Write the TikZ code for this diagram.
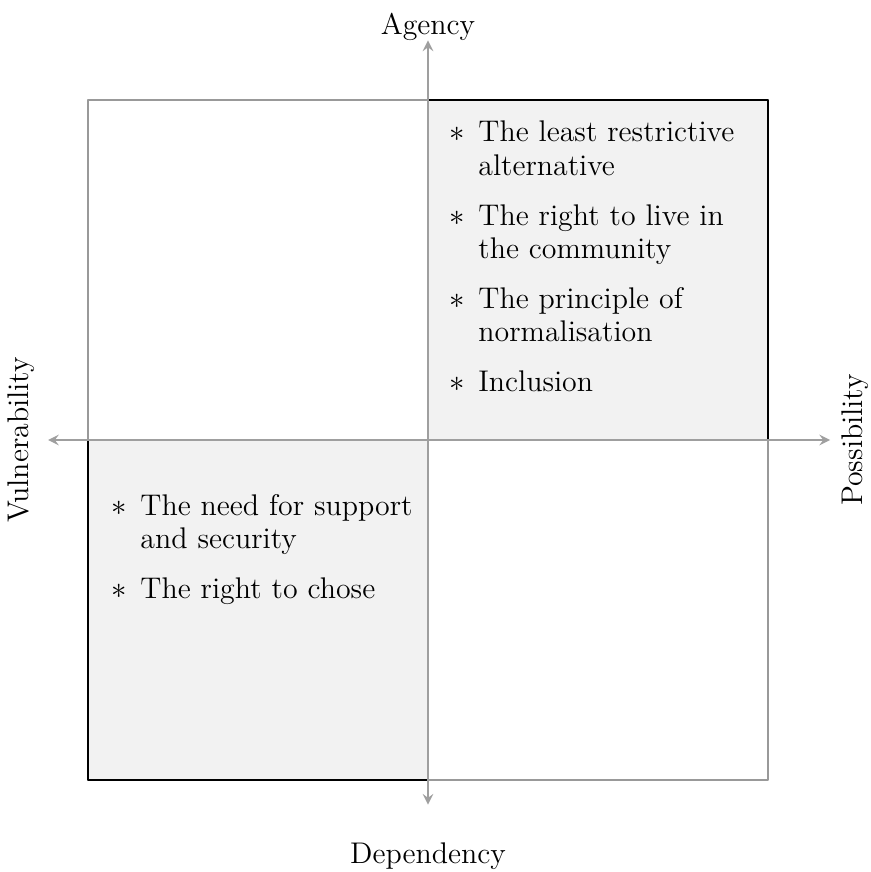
\documentclass[tikz,border=0pt]{standalone}
\usepackage{enumitem}
\setlist[itemize]{label=$\ast$, leftmargin=12.5pt, labelsep=6.5pt, labelwidth=6pt, itemsep=8pt, parsep=0pt, topsep=0pt, partopsep=0pt}
\tikzset{
  frame/.style={draw=gray!80, line width=1.2pt},
  edge/.style={draw=black, line width=1.2pt},
  axis/.style={draw=gray!75, line width=1.2pt},
  shade/.style={fill=gray!10},
  itemlist/.style={inner sep=0pt, text width=3.7cm*1.4, align=left}
}
\begin{document}
\begin{tikzpicture}[line join=round, >=stealth, x=1.4cm, y=1.4cm, font=\fontsize{14}{15.5}\selectfont]
	\useasboundingbox (-5.035,-5.082) rectangle (5.2,5.176);
	% quadrants
	\fill[shade] (0,0) rectangle (4,4);
	\fill[shade] (-4,-4) rectangle (0,0);
	\draw[frame] (-4,-4) rectangle (4,4);
	\draw[edge] (0,4) -- (4,4) -- (4,0);
	\draw[edge] (-4,0) -- (-4,-4) -- (0,-4);
	% axes
	\coordinate (west) at (-4.47,0);
	\coordinate (east) at (4.73,0);
	\coordinate (north) at (0,4.7);
	\coordinate (south) at (0,-4.29);
	\draw[axis,<->] (west) -- (east);
	\draw[axis,<->] (south) -- (north);
	\node (agency) at (0,4.86) {Agency};
	\node (dependency) at (0,-4.9) {Dependency};
	\node[rotate=90] (vulnerability) at (-4.79,0) {Vulnerability};
	\node[rotate=90] (possibility) at (5.02,0) {Possibility};
	% lists
	\node[itemlist, anchor=north west] (agencylist) at (0.274,3.9) {%
		\begin{itemize}
			\item The least restrictive\\ alternative
			\item The right to live in\\ the community
			\item The principle of\\ normalisation
			\item Inclusion
		\end{itemize}};
	\node[itemlist, anchor=north west] (needlist) at (-3.702,-0.49) {%
		\begin{itemize}
			\item The need for support\\ and security
			\item The right to chose
		\end{itemize}};
\end{tikzpicture}
\end{document}
